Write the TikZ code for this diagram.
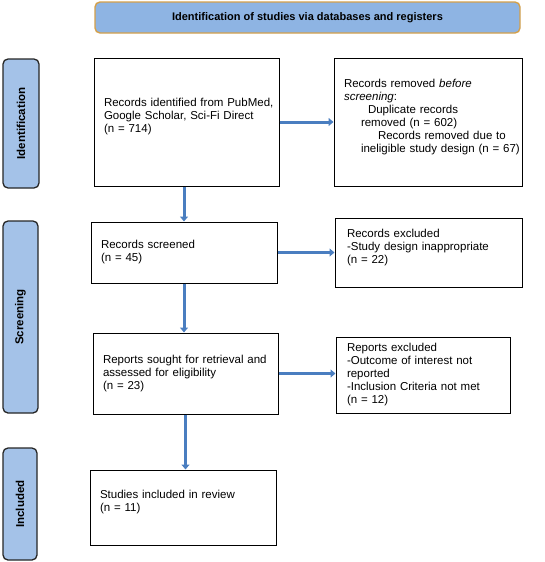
\documentclass[tikz,border=0pt]{standalone}
\usepackage{fontspec}
\setmainfont{Liberation Sans}
\usepackage{tikz}
\usetikzlibrary{arrows.meta}
\definecolor{headfill}{HTML}{8EB4E3}
\definecolor{headline}{HTML}{D4A04A}
\definecolor{sidefill}{HTML}{A4C2E8}
\definecolor{flowblue}{HTML}{4A7EC0}
\newcommand{\nrec}[1]{(n = #1)}

\begin{document}
\begin{tikzpicture}[x=1pt,y=-1pt,
  font=\fontsize{11.5}{13}\selectfont,
  flow box/.style={draw=black,line width=1pt,align=left,inner xsep=10pt,
    inner ysep=0pt},
  phase box/.style={draw=black!85,line width=1.3pt,fill=sidefill,
    rounded corners=5pt,inner sep=0pt,font=\fontsize{11.5}{13}\selectfont\bfseries},
  head box/.style={draw=headline,line width=1.4pt,fill=headfill,
    rounded corners=5pt,inner sep=0pt,font=\fontsize{11}{13}\selectfont\bfseries},
  flow/.style={-{Triangle[length=5pt,width=8pt]},draw=flowblue,line width=3pt}]

  \useasboundingbox (0,0) rectangle (545,562);

  % header and phases
  \node[head box,minimum width=425pt,minimum height=31pt] (head) at (307.5,17.5)
    {Identification of studies via databases and registers};
  \node[phase box,minimum width=36pt,minimum height=129pt] (idphase) at (21,123.5)
    {\rotatebox{90}{Identification}};
  \node[phase box,minimum width=35pt,minimum height=192pt] (scrphase) at (20.5,317)
    {\rotatebox{90}{Screening}};
  \node[phase box,minimum width=34pt,minimum height=112pt] (incphase) at (20,504)
    {\rotatebox{90}{Included}};

  % main column
  \node[flow box,text width=165pt,minimum height=128pt] (ident) at (186.5,122)
    {\mbox{Records identified from PubMed,}\\Google Scholar, Sci-Fi Direct\\\nrec{714}\\~};
  \node[flow box,text width=166pt,minimum height=61pt] (screened) at (184,252.5)
    {Records screened\\\nrec{45}};
  \node[flow box,text width=165pt,minimum height=81pt] (sought) at (185.5,373.5)
    {Reports sought for retrieval and\\assessed for eligibility\\\nrec{23}};
  \node[flow box,text width=166pt,minimum height=75pt] (studies) at (183,507.5)
    {Studies included in review\\\nrec{11}\\~};

  % side column
  \node[flow box,text width=168pt,minimum height=128pt] (removed) at (428,122)
    {Records removed \emph{before}\\\emph{screening}:\\
     \mbox{\hspace*{24pt}Duplicate records}\\\mbox{\hspace*{17pt}removed \nrec{602}}\\
     \mbox{\hspace*{34pt}Records removed due to}\\\mbox{\hspace*{17pt}ineligible study design \nrec{67}}\\~};
  \node[flow box,inner xsep=12pt,text width=163pt,minimum height=69pt] (excluded) at (428.5,252.5)
    {Records excluded\\-Study design inappropriate\\\nrec{22}\\~};
  \node[flow box,inner xsep=11pt,text width=152pt,minimum height=76pt] (repexcl) at (423,375)
    {Reports excluded\\-Outcome of interest not\\reported\\-Inclusion Criteria not met\\\nrec{12}};

  \draw[flow] (ident.east |- removed.west) -- (removed.west);
  \draw[flow] (ident.south -| screened.north) -- (screened.north);
  \draw[flow] (screened.east) -- (screened.east -| excluded.west);
  \draw[flow] (screened.south) -- (screened.south |- sought.north);
  \draw[flow] (sought.east) -- (sought.east -| repexcl.west);
  \draw[flow] (sought.south) -- (sought.south |- studies.north);

\end{tikzpicture}
\end{document}
